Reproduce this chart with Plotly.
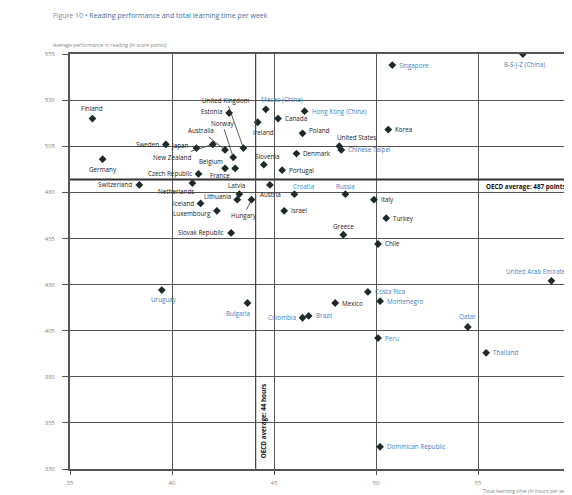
import plotly.graph_objects as go

# ---------------- data ----------------
countries = [
    "B-S-J-Z (China)", "Singapore", "Macao (China)", "Hong Kong (China)", "Estonia",
    "Canada", "Finland", "Ireland", "Korea", "Poland", "Sweden", "New Zealand",
    "United States", "United Kingdom", "Japan", "Australia", "Chinese Taipei",
    "Denmark", "Norway", "Germany", "Slovenia", "Belgium", "France", "Portugal",
    "Czech Republic", "Netherlands", "Austria", "Switzerland", "Croatia", "Latvia",
    "Russia", "Italy", "Hungary", "Lithuania", "Iceland", "Israel", "Luxembourg",
    "Turkey", "Slovak Republic", "Greece", "Chile", "United Arab Emirates",
    "Uruguay", "Costa Rica", "Montenegro", "Bulgaria", "Mexico", "Qatar", "Brazil",
    "Colombia", "Peru", "Thailand", "Dominican Republic",
]
hours = [
    57.2, 50.8, 44.6, 46.5, 42.8,
    45.2, 36.1, 44.2, 50.6, 46.4, 39.7, 42.0,
    48.2, 43.5, 41.2, 42.6, 48.3,
    46.1, 43.0, 36.6, 44.5, 42.6, 43.1, 45.4,
    41.3, 41.0, 44.8, 38.4, 46.0, 43.3,
    48.5, 49.9, 43.9, 43.2, 41.4, 45.5, 42.2,
    50.5, 42.9, 48.4, 50.1, 58.6,
    39.5, 49.6, 50.2, 43.7, 48.0, 54.5, 46.7,
    46.4, 50.1, 55.4, 50.2,
]
scores = [
    555, 549, 525, 524, 523,
    520, 520, 518, 514, 512, 506, 506,
    505, 504, 504, 503, 503,
    501, 499, 498, 495, 493, 493, 492,
    490, 485, 484, 484, 479, 479,
    479, 476, 476, 476, 474, 470, 470,
    466, 458, 457, 452, 432,
    427, 426, 421, 420, 420, 407, 413,
    412, 401, 393, 342,
]
partners = {
    "B-S-J-Z (China)", "Singapore", "Macao (China)", "Hong Kong (China)",
    "Chinese Taipei", "Croatia", "Russia", "United Arab Emirates", "Uruguay",
    "Costa Rica", "Montenegro", "Bulgaria", "Qatar", "Brazil", "Colombia",
    "Peru", "Thailand", "Dominican Republic",
}
OECD_SCORE = 487
OECD_HOURS = 44.1
x_ticks = [35, 40, 45, 50, 55]
y_ticks = [330, 355, 380, 405, 430, 455, 480, 505, 530, 555]

# ---------------- label styling ----------------
# (xanchor, xshift, yshift) for plain labels; ("arrow", ax, ay) for leader lines
R = ("left", 5, 0)
L = ("right", -5, 0)
label_style = {
    "B-S-J-Z (China)": ("center", 2, -10), "Singapore": R,
    "Macao (China)": ("left", -7, 10), "Hong Kong (China)": R,
    "Estonia": ("right", -5, 2), "Canada": R, "Finland": ("center", 0, 10),
    "Ireland": ("center", 6, -10), "Korea": R, "Poland": ("left", 4, 3),
    "Sweden": L, "New Zealand": ("arrow", -41, 13), "United States": ("center", 17, 9),
    "United Kingdom": ("arrow", -17, -48), "Japan": ("right", -5, 3),
    "Australia": ("arrow", -24, -19), "Chinese Taipei": R, "Denmark": R,
    "Norway": ("arrow", -11, -34), "Germany": ("center", 0, -10),
    "Slovenia": ("center", 3, 8), "Belgium": ("arrow", -14, -7),
    "France": ("arrow", -15, 7), "Portugal": R, "Czech Republic": L,
    "Netherlands": ("right", 4, -8), "Austria": ("center", 1, -10),
    "Switzerland": L, "Croatia": ("left", -3, 8), "Latvia": ("center", -3, 9),
    "Russia": ("center", 0, 8), "Italy": R, "Hungary": ("arrow", -8, 16),
    "Lithuania": ("right", -4, 3), "Iceland": L, "Israel": R,
    "Luxembourg": ("right", -4, -3), "Turkey": R, "Slovak Republic": L,
    "Greece": ("center", 0, 8), "Chile": R,
    "United Arab Emirates": ("left", -47, 9), "Uruguay": ("center", 2, -9),
    "Costa Rica": R, "Montenegro": R, "Bulgaria": ("center", -9, -10),
    "Mexico": R, "Qatar": ("center", 0, 10), "Brazil": R, "Colombia": L,
    "Peru": R, "Thailand": R, "Dominican Republic": R,
}

BLUE = "#3f7fbf"
DARK = "#222222"
GRID = "#555555"
FONT = "Open Sans"
FS = 6.3

fig = go.Figure()
fig.add_trace(go.Scatter(
    x=hours, y=scores, mode="markers",
    marker=dict(symbol="diamond", size=6, color="#1e2a2a"),
    hoverinfo="text", hovertext=countries, showlegend=False,
))

annotations = []
for name, hx, sy in zip(countries, hours, scores):
    col = BLUE if name in partners else DARK
    st = label_style[name]
    if st[0] == "arrow":
        annotations.append(dict(
            x=hx, y=sy, text=name, showarrow=True, arrowhead=0, ax=st[1], ay=st[2],
            arrowwidth=0.8, arrowcolor="#333", standoff=2,
            font=dict(family=FONT, size=FS, color=col)))
    else:
        annotations.append(dict(
            x=hx, y=sy, text=name, showarrow=False, xanchor=st[0],
            xshift=st[1], yshift=st[2], yanchor="middle",
            font=dict(family=FONT, size=FS, color=col)))

annotations += [
    dict(x=55.3, y=OECD_SCORE, text="<b>OECD average: 487 points</b>", showarrow=False,
         xanchor="left", yshift=-7, font=dict(family=FONT, size=FS, color="#111")),
    dict(x=OECD_HOURS, y=356, text="<b>OECD average: 44 hours</b>", showarrow=False,
         textangle=-90, xanchor="left", xshift=1, font=dict(family=FONT, size=FS, color="#111")),
    dict(xref="paper", yref="paper", x=-0.037, y=1.092, xanchor="left", yanchor="middle",
         showarrow=False,
         text="<span style='color:#888'>Figure 10 • </span>Reading performance and total learning time per week",
         font=dict(family=FONT, size=7, color="#3d6fa6")),
    dict(xref="paper", yref="paper", x=-0.037, y=1.022, xanchor="left", yanchor="middle",
         showarrow=False, text="Average performance in reading (in score points)",
         font=dict(family=FONT, size=5, color="#888")),
    dict(xref="paper", yref="paper", x=0.805, y=-0.053, xanchor="left", yanchor="middle",
         showarrow=False, text="Total learning time (in hours per week)",
         font=dict(family=FONT, size=5, color="#888")),
]

fig.add_shape(type="line", xref="x", yref="y", x0=35, x1=60, y0=OECD_SCORE, y1=OECD_SCORE,
              line=dict(color="#333", width=2))
fig.add_shape(type="line", xref="x", yref="y", x0=OECD_HOURS, x1=OECD_HOURS, y0=330, y1=555,
              line=dict(color="#444", width=1.2))

fig.update_layout(
    width=572, height=495,
    margin=dict(l=62, r=0, t=46, b=34),
    paper_bgcolor="white", plot_bgcolor="white",
    font=dict(family=FONT, size=6, color="#888"),
    annotations=annotations,
    xaxis=dict(range=[35, 60], tickvals=x_ticks, showgrid=True, gridcolor=GRID,
               gridwidth=1.3, zeroline=False, showline=True, mirror=True, linecolor=GRID,
               linewidth=1.5, ticks="outside", ticklen=4, tickcolor=GRID,
               ticklabelstandoff=3, tickfont=dict(size=6, color="#888")),
    yaxis=dict(range=[330, 555], tickvals=y_ticks, showgrid=True, gridcolor=GRID,
               gridwidth=1.3, zeroline=False, showline=True, linecolor=GRID, linewidth=1.5,
               ticks="outside", ticklen=6, tickcolor=GRID,
               ticklabelstandoff=6, tickfont=dict(size=6, color="#888")),
)

fig.write_html("out.html")
